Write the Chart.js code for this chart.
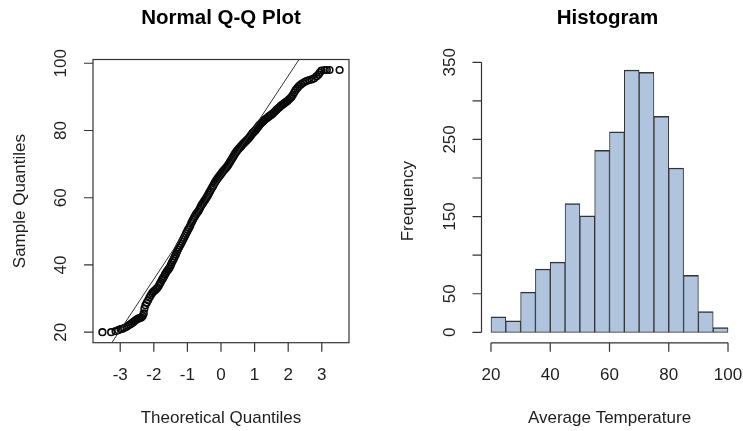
<!DOCTYPE html>
<html lang="en">
<head>
<meta charset="UTF-8">
<title>Average Temperature: Q-Q Plot and Histogram</title>
<script src="https://cdn.jsdelivr.net/npm/chart.js"></script>
<style>
  body { margin: 0; background: #fff; }
  #wrap { position: relative; width: 743px; height: 431px; }
  canvas { position: absolute; top: 0; }
  #qq { left: 0; }
  #hist { left: 372px; }
</style>
</head>
<body>
<div id="wrap">
  <canvas id="qq" width="372" height="431"></canvas>
  <canvas id="hist" width="371" height="431"></canvas>
</div>

<script>
// normal Q-Q plot: theoretical quantile vs. sample quantile (°F)
const theoQ = [
  -3.53, -3.27, -3.14, -3.06, -2.99, -2.93, -2.87, -2.81, -2.76, -2.71,
  -2.66, -2.61, -2.57, -2.53, -2.49, -2.45, -2.41, -2.37, -2.33, -2.30,
  -2.28, -2.25, -2.21, -2.17, -2.13, -2.09, -2.05, -2.01, -1.97, -1.93,
  -1.89, -1.85, -1.82, -1.79, -1.76, -1.73, -1.70, -1.67, -1.64, -1.61,
  -1.58, -1.55, -1.52, -1.49, -1.46, -1.43, -1.40, -1.37, -1.34, -1.31,
  -1.28, -1.25, -1.22, -1.19, -1.16, -1.13, -1.10, -1.07, -1.04, -1.01,
  -0.98, -0.95, -0.92, -0.89, -0.86, -0.83, -0.80, -0.77, -0.74, -0.71,
  -0.68, -0.65, -0.62, -0.59, -0.56, -0.53, -0.50, -0.47, -0.44, -0.41,
  -0.38, -0.35, -0.32, -0.29, -0.26, -0.23, -0.20, -0.17, -0.14, -0.11,
  -0.08, -0.05, -0.02, 0.01, 0.04, 0.07, 0.10, 0.13, 0.16, 0.19,
  0.22, 0.25, 0.28, 0.31, 0.34, 0.37, 0.40, 0.43, 0.46, 0.49,
  0.52, 0.55, 0.58, 0.61, 0.64, 0.67, 0.70, 0.73, 0.76, 0.79,
  0.82, 0.85, 0.88, 0.91, 0.94, 0.97, 1.00, 1.03, 1.06, 1.09,
  1.12, 1.15, 1.18, 1.21, 1.24, 1.27, 1.30, 1.34, 1.38, 1.42,
  1.46, 1.50, 1.54, 1.58, 1.62, 1.66, 1.70, 1.74, 1.78, 1.82,
  1.86, 1.90, 1.94, 1.98, 2.02, 2.06, 2.10, 2.14, 2.18, 2.22,
  2.27, 2.32, 2.38, 2.44, 2.50, 2.56, 2.63, 2.70, 2.77, 2.84,
  2.90, 2.94, 2.99, 3.09, 3.15, 3.23, 3.53
];
const sampleQ = [
  20.0, 20.0, 20.3, 20.6, 20.9, 21.0, 21.3, 21.6, 22.0, 22.3,
  22.6, 23.0, 23.3, 23.6, 23.9, 24.1, 24.2, 24.4, 24.8, 25.6,
  27.0, 28.0, 28.8, 29.5, 30.3, 31.0, 31.6, 32.1, 32.4, 32.8,
  33.2, 33.8, 34.4, 34.9, 35.5, 36.0, 36.5, 37.1, 37.6, 38.1,
  38.5, 38.9, 39.4, 40.0, 40.7, 41.3, 41.9, 42.6, 43.2, 43.9,
  44.6, 45.2, 45.8, 46.3, 46.9, 47.5, 48.1, 48.7, 49.3, 49.9,
  50.5, 51.0, 51.6, 52.3, 52.9, 53.5, 54.1, 54.6, 55.1, 55.5,
  55.9, 56.4, 57.0, 57.6, 58.1, 58.5, 59.0, 59.4, 59.9, 60.4,
  60.9, 61.5, 62.0, 62.6, 63.1, 63.6, 64.2, 64.7, 65.2, 65.6,
  66.0, 66.4, 66.8, 67.2, 67.6, 68.0, 68.3, 68.7, 69.0, 69.4,
  69.8, 70.3, 70.8, 71.3, 71.8, 72.3, 72.8, 73.3, 73.7, 74.1,
  74.5, 74.8, 75.1, 75.4, 75.8, 76.1, 76.4, 76.7, 77.0, 77.3,
  77.6, 78.0, 78.4, 78.8, 79.2, 79.5, 79.8, 80.1, 80.5, 80.9,
  81.3, 81.7, 82.0, 82.3, 82.6, 82.9, 83.2, 83.5, 83.8, 84.1,
  84.4, 84.7, 85.0, 85.4, 85.8, 86.2, 86.6, 86.9, 87.3, 87.6,
  87.9, 88.2, 88.5, 88.8, 89.2, 89.6, 90.0, 90.6, 91.3, 92.0,
  92.6, 93.2, 93.7, 94.1, 94.5, 94.8, 95.0, 95.2, 95.5, 96.1,
  96.6, 97.2, 97.8, 98.0, 98.0, 98.0, 98.0
];
// reference line through the quartiles
const qqIntercept = 66.0;
const qqSlope = 15.12;
const qqXTicks = [-3, -2, -1, 0, 1, 2, 3];
const qqYTicks = [20, 40, 60, 80, 100];

// histogram of average temperature, 5-degree bins
const binStarts = [20, 25, 30, 35, 40, 45, 50, 55, 60, 65, 70, 75, 80, 85, 90, 95];
const binCounts = [20, 15, 52, 82, 91, 167, 151, 236, 260, 340, 337, 280, 213, 74, 27, 6];
const binWidth = 5;
const histXTicks = [20, 40, 60, 80, 100];
const histYTicks = [0, 50, 100, 150, 200, 250, 300, 350];
const histYLabels = [0, 50, 150, 250, 350];

const FONT = '"Liberation Sans", Arial, sans-serif';
const INK = '#1e1e1e';
const AXIS = '#333';
const TICK_LEN = 9;

function text(ctx, str, x, y, size, bold, vertical) {
  ctx.save();
  ctx.translate(x, y);
  if (vertical) ctx.rotate(-Math.PI / 2);
  ctx.font = (bold ? 'bold ' : '') + size + 'px ' + FONT;
  ctx.fillStyle = bold ? '#000' : INK;
  ctx.textAlign = 'center';
  ctx.textBaseline = 'middle';
  ctx.fillText(str, 0, 0);
  ctx.restore();
}

// R-style box, ticks and labels for the Q-Q panel
const qqAxes = {
  id: 'qqAxes',
  afterDraw(chart) {
    const { ctx, chartArea: a, scales: { x, y } } = chart;
    ctx.save();
    ctx.strokeStyle = AXIS;
    ctx.lineWidth = 1.2;
    ctx.strokeRect(a.left, a.top, a.right - a.left, a.bottom - a.top);
    ctx.beginPath();
    qqXTicks.forEach(v => {
      const px = x.getPixelForValue(v);
      ctx.moveTo(px, a.bottom);
      ctx.lineTo(px, a.bottom + TICK_LEN);
    });
    qqYTicks.forEach(v => {
      const py = y.getPixelForValue(v);
      ctx.moveTo(a.left, py);
      ctx.lineTo(a.left - TICK_LEN, py);
    });
    ctx.stroke();
    ctx.restore();

    qqXTicks.forEach(v => text(ctx, String(v), x.getPixelForValue(v), a.bottom + 33, 17));
    qqYTicks.forEach(v => text(ctx, String(v), a.left - 31.5, y.getPixelForValue(v), 17, false, true));
    const cx = (a.left + a.right) / 2;
    text(ctx, 'Normal Q-Q Plot', cx, 18, 20.5, true);
    text(ctx, 'Theoretical Quantiles', cx, a.bottom + 75.5, 17);
    text(ctx, 'Sample Quantiles', a.left - 73, (a.top + a.bottom) / 2, 17, false, true);
  }
};

// R-style detached axes for the histogram
const histAxes = {
  id: 'histAxes',
  afterDraw(chart) {
    const { ctx, chartArea: a, scales: { x, y } } = chart;
    ctx.save();
    ctx.strokeStyle = AXIS;
    ctx.lineWidth = 1.2;
    ctx.beginPath();
    ctx.moveTo(a.left, y.getPixelForValue(histYTicks[0]));
    ctx.lineTo(a.left, y.getPixelForValue(histYTicks[histYTicks.length - 1]));
    histYTicks.forEach(v => {
      const py = y.getPixelForValue(v);
      ctx.moveTo(a.left, py);
      ctx.lineTo(a.left - TICK_LEN, py);
    });
    ctx.moveTo(x.getPixelForValue(histXTicks[0]), a.bottom);
    ctx.lineTo(x.getPixelForValue(histXTicks[histXTicks.length - 1]), a.bottom);
    histXTicks.forEach(v => {
      const px = x.getPixelForValue(v);
      ctx.moveTo(px, a.bottom);
      ctx.lineTo(px, a.bottom + TICK_LEN);
    });
    ctx.stroke();
    ctx.restore();

    histXTicks.forEach(v => text(ctx, String(v), x.getPixelForValue(v), a.bottom + 33, 17));
    histYLabels.forEach(v => text(ctx, String(v), a.left - 31.5, y.getPixelForValue(v), 17, false, true));
    const cx = (a.left + a.right) / 2;
    text(ctx, 'Histogram', cx - 2, 18, 20.5, true);
    text(ctx, 'Average Temperature', cx, a.bottom + 75.5, 17);
    text(ctx, 'Frequency', a.left - 73, (a.top + a.bottom) / 2, 17, false, true);
  }
};

const qqMin = -3.81, qqMax = 3.81;

new Chart(document.getElementById('qq'), {
  type: 'scatter',
  data: {
    datasets: [{
      type: 'line',
      data: [
        { x: qqMin, y: qqIntercept + qqSlope * qqMin },
        { x: qqMax, y: qqIntercept + qqSlope * qqMax }
      ],
      borderColor: '#333',
      borderWidth: 1,
      pointRadius: 0,
      fill: false
    }, {
      data: theoQ.map((q, i) => ({ x: q, y: sampleQ[i] })),
      pointStyle: 'circle',
      pointRadius: 3.3,
      pointBorderWidth: 1.6,
      borderColor: '#0a0a0a',
      backgroundColor: 'rgba(0,0,0,0)'
    }]
  },
  options: {
    responsive: false,
    animation: false,
    layout: { padding: { left: 93, top: 59.5, right: 23, bottom: 88.3 } },
    plugins: { legend: { display: false }, tooltip: { enabled: false } },
    scales: {
      x: { type: 'linear', display: false, min: qqMin, max: qqMax },
      y: { type: 'linear', display: false, min: 16.88, max: 101.12 }
    }
  },
  plugins: [qqAxes]
});

new Chart(document.getElementById('hist'), {
  type: 'bar',
  data: {
    datasets: [{
      data: binStarts.map((b, i) => ({ x: b + binWidth / 2, y: binCounts[i] })),
      backgroundColor: '#b0c4de',
      borderColor: '#333',
      borderWidth: { top: 1.5, left: 1, right: 1, bottom: 1 },
      borderSkipped: false,
      barPercentage: 1,
      categoryPercentage: 1
    }]
  },
  options: {
    responsive: false,
    animation: false,
    layout: { padding: { left: 109.5, top: 59.5, right: 5.5, bottom: 88.2 } },
    plugins: { legend: { display: false }, tooltip: { enabled: false } },
    scales: {
      x: {
        type: 'linear', display: false, min: 16.8, max: 103.2, offset: false,
        ticks: { includeBounds: false, stepSize: 20 }
      },
      y: { type: 'linear', display: false, min: -13.6, max: 353.6 }
    }
  },
  plugins: [histAxes]
});
</script>
</body>
</html>
